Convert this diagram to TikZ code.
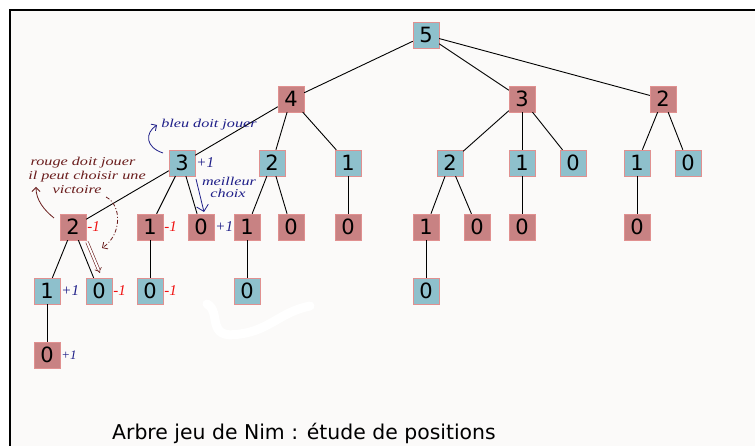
\documentclass[tikz,border=0pt]{standalone}
\usepackage{fontspec}
\setmainfont{DejaVu Sans}
\newfontfamily\handfont[FakeStretch=1.35]{Liberation Serif}
\newfontfamily\valfont{Liberation Serif}
\usetikzlibrary{arrows.meta}
\definecolor{bgc}{HTML}{FBFAF9}
\definecolor{bluec}{HTML}{8EC0CC}
\definecolor{redc}{HTML}{C88283}
\definecolor{bordc}{HTML}{E09090}
\definecolor{inkblue}{HTML}{1E1E88}
\definecolor{inkred}{HTML}{6A1C1C}
\definecolor{lblred}{HTML}{F01010}
\tikzset{
  bn/.style={draw=bordc, fill=bluec, minimum size=26pt, inner sep=0pt, font=\fontsize{21}{21}\selectfont},
  rn/.style={draw=bordc, fill=redc, minimum size=26pt, inner sep=0pt, font=\fontsize{21}{21}\selectfont},
  edge/.style={draw=black, line width=0.9pt},
  plus/.style={anchor=west, inner sep=1pt, text=inkblue, font=\valfont\itshape\fontsize{15}{15}\selectfont},
  minus/.style={anchor=west, inner sep=1pt, text=lblred, font=\valfont\itshape\fontsize{15}{15}\selectfont},
  hand/.style={inner sep=0pt, font=\handfont\itshape\fontsize{12}{12}\selectfont},
}
\begin{document}
\begin{tikzpicture}[x=1pt,y=-1pt]
\useasboundingbox (0,0) rectangle (755,446);
\fill[white] (0,0) rectangle (755,446);
\fill[bgc] (10,10) rectangle (755,446);
\draw[line width=1.8pt, line cap=rect] (10,446) -- (10,10) -- (755,10);
% white smudge
\draw[white, line width=9pt, line cap=round] (207,304) .. controls (222,312) and (205,340) .. (240,334) .. controls (270,330) and (280,312) .. (310,306);
% level 0
\node[bn] (r) at (426,35) {5};
% level 1
\node[rn] (a) at (291,99) {4};
\node[rn] (b) at (522,99) {3};
\node[rn] (c) at (663,99) {2};
% level 2
\node[bn] (a1) at (182,163) {3};
\node[bn] (a2) at (272,163) {2};
\node[bn] (a3) at (348,163) {1};
\node[bn] (b1) at (450,163) {2};
\node[bn] (b2) at (522,163) {1};
\node[bn] (b3) at (573,163) {0};
\node[bn] (c1) at (637,163) {1};
\node[bn] (c2) at (688,163) {0};
% level 3
\node[rn] (a11) at (73,227) {2};
\node[rn] (a12) at (150,227) {1};
\node[rn] (a13) at (201,227) {0};
\node[rn] (a21) at (247,227) {1};
\node[rn] (a22) at (291,227) {0};
\node[rn] (a31) at (348,227) {0};
\node[rn] (b11) at (426,227) {1};
\node[rn] (b12) at (477,227) {0};
\node[rn] (b21) at (522,227) {0};
\node[rn] (c11) at (637,227) {0};
% level 4
\node[bn] (a111) at (47,291) {1};
\node[bn] (a112) at (99,291) {0};
\node[bn] (a121) at (150,291) {0};
\node[bn] (a211) at (247,291) {0};
\node[bn] (b111) at (426,291) {0};
% level 5
\node[rn] (a1111) at (47,355) {0};
% edges
\foreach \p/\q in {r/a,r/b,r/c,a/a1,a/a2,a/a3,b/b1,b/b2,b/b3,c/c1,c/c2,
  a1/a11,a1/a12,a1/a13,a2/a21,a2/a22,a3/a31,b1/b11,b1/b12,b2/b21,c1/c11,
  a11/a111,a11/a112,a12/a121,a21/a211,b11/b111,a111/a1111}
  \draw[edge] (\p) -- (\q);
% values
\node[plus] (v1) at (a1.east) {+1};
\node[minus] (v2) at (a11.east) {-1};
\node[minus] (v3) at (a12.east) {-1};
\node[plus] (v4) at (a13.east) {+1};
\node[plus] (v5) at (a111.east) {+1};
\node[minus] (v6) at (a112.east) {-1};
\node[minus] (v7) at (a121.east) {-1};
\node[plus, font=\valfont\itshape\fontsize{13}{13}\selectfont] (v8) at (a1111.east) {+1};
% blue annotations
\node[hand, text=inkblue] (t1) at (209,125) {bleu doit jouer};
\node[hand, text=inkblue] (t2) at (229,181) {meilleur};
\node[hand, text=inkblue] (t3) at (228,193) {choix};
\coordinate (p1) at (163,153);
\coordinate (p2) at (157,125);
\draw[inkblue, line width=0.8pt, -{Straight Barb[length=4pt]}] (p1) .. controls (145,147) and (145,133) .. (p2);
\coordinate (p3) at (196,179);
\coordinate (p4) at (204,212);
\draw[inkblue, line width=0.8pt, -{Straight Barb[length=6pt]}] (p3) -- (p4);
% red annotations
\node[hand, text=inkred] (t4) at (83,163) {rouge doit jouer};
\node[hand, text=inkred] (t5) at (87,177) {il peut choisir une};
\node[hand, text=inkred] (t6) at (77,190) {victoire};
\coordinate (q1) at (54,218);
\coordinate (q2) at (36,187);
\draw[inkred, line width=0.8pt, -{Straight Barb[length=4pt]}] (q1) .. controls (44,210) and (36,200) .. (q2);
\coordinate (q3) at (106,197);
\coordinate (q4) at (102,248);
\draw[inkred, line width=0.8pt, dash pattern=on 4pt off 2pt on 1pt off 2pt, -{Straight Barb[length=4pt]}] (q3) .. controls (122,205) and (122,235) .. (q4);
\coordinate (q5) at (87,242);
\coordinate (q6) at (100,273);
\draw[inkred, line width=0.6pt, double distance=2pt, -{Implies}] (q5) -- (q6);
% title
\node[anchor=base west, inner sep=0pt, font=\fontsize{20.4}{20.4}\selectfont] (title) at (112,439) {Arbre jeu de Nim : étude de positions};
\end{tikzpicture}
\end{document}
